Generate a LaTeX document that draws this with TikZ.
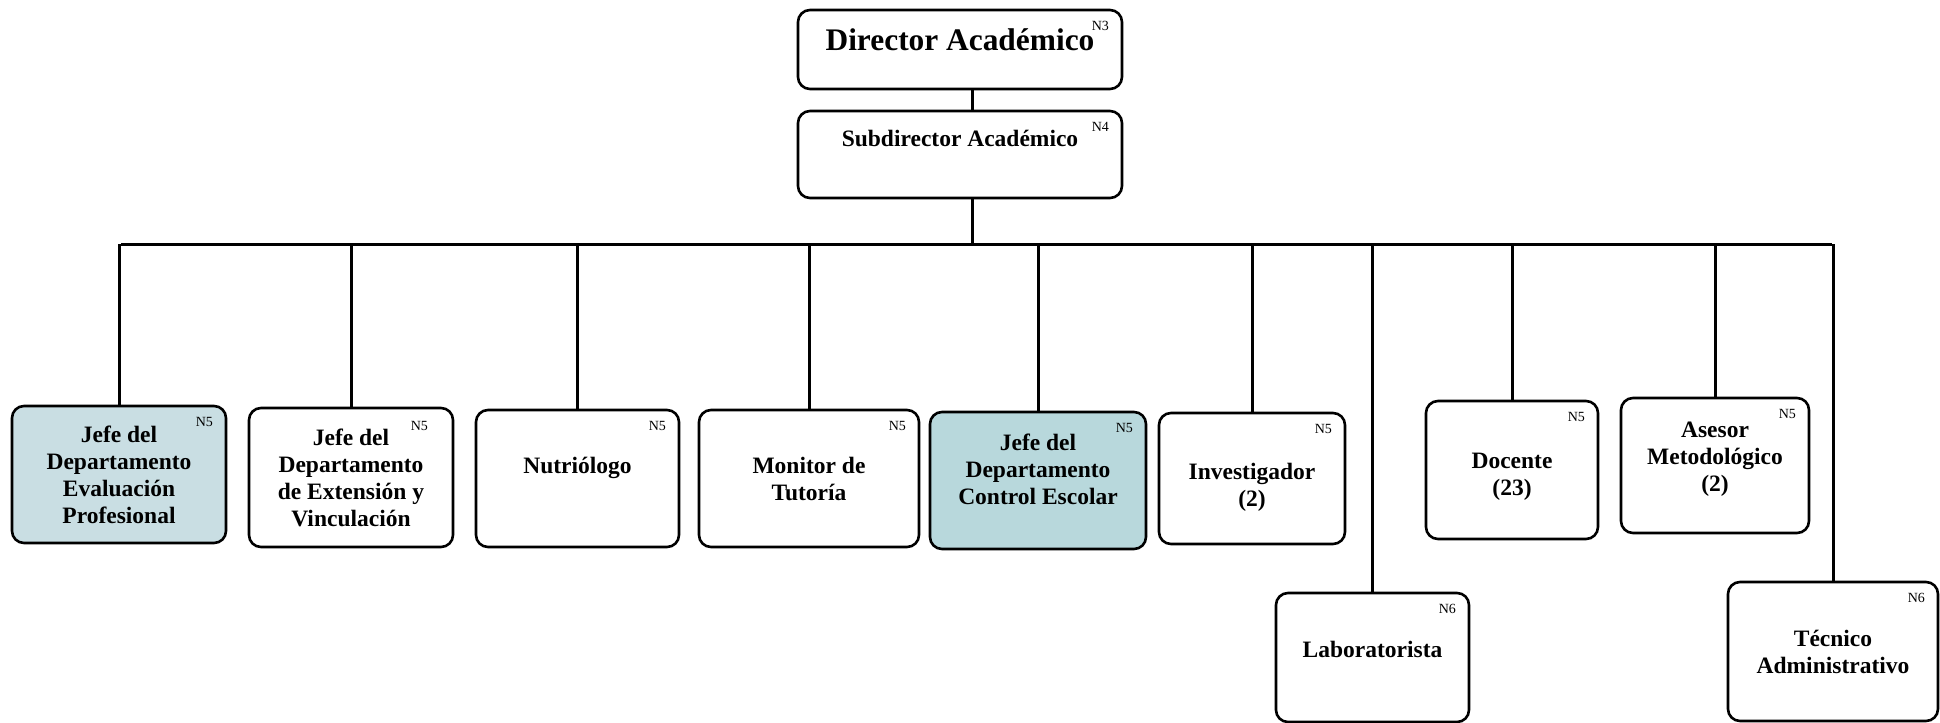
\documentclass[tikz,border=0pt]{standalone}
\usepackage{fontspec}
\setmainfont{Liberation Serif}
\definecolor{celeste}{HTML}{C9DEE3}
\definecolor{celesteosc}{HTML}{B8D8DC}
\tikzset{
  puesto/.style={draw, line width=1.3pt, rounded corners=6pt, align=center,
    inner sep=2pt, font=\bfseries\fontsize{11.75}{13.5}\selectfont},
  nivel/.style={anchor=north east, inner sep=0pt, font=\fontsize{7}{8}\selectfont},
  linea/.style={line width=1.5pt}
}
\begin{document}
\begin{tikzpicture}[x=0.5pt,y=-0.5pt]
  \useasboundingbox (0,0) rectangle (1940,723);
  % direccion
  \node[puesto, minimum width=162pt, minimum height=39.5pt, text depth=10pt,
        font=\bfseries\fontsize{15.7}{18}\selectfont] (dir) at (960,49.5) {Director Académico};
  \node[puesto, minimum width=162pt, minimum height=43.5pt, text depth=16pt] (sub) at (960,154.5) {Subdirector Académico};
  % jefaturas y puestos
  \node[puesto, fill=celeste, minimum width=107pt, minimum height=68.5pt] (eval) at (119,474.5) {Jefe del\\Departamento\\Evaluación\\Profesional};
  \node[puesto, minimum width=102pt, minimum height=69.5pt] (ext) at (351,477.5) {Jefe del\\Departamento\\de Extensión y\\Vinculación};
  \node[puesto, minimum width=101.5pt, minimum height=68.5pt, text depth=13pt] (nutri) at (577.5,478.5) {Nutriólogo};
  \node[puesto, minimum width=110pt, minimum height=68.5pt] (tutor) at (809,478.5) {Monitor de\\Tutoría};
  \node[puesto, fill=celesteosc, minimum width=108pt, minimum height=68.5pt, text depth=11pt] (control) at (1038,480.5) {Jefe del\\Departamento\\Control Escolar};
  \node[puesto, minimum width=93pt, minimum height=65.5pt, text height=30.5pt] (invest) at (1252,478.5) {Investigador\\(2)};
  \node[puesto, minimum width=86pt, minimum height=69pt, text height=27.5pt] (docente) at (1512,470) {Docente\\(23)};
  \node[puesto, minimum width=94pt, minimum height=67.5pt, text depth=8.5pt] (asesor) at (1715,465.5) {Asesor\\Metodológico\\(2)};
  \node[puesto, minimum width=96.5pt, minimum height=64.5pt, text depth=8pt] (lab) at (1372.5,657.5) {Laboratorista};
  \node[puesto, minimum width=105pt, minimum height=69.5pt] (tecnico) at (1833,651.5) {Técnico\\Administrativo};
  % niveles
  \foreach \b/\n in {dir/N3,sub/N4,eval/N5,nutri/N5,tutor/N5,control/N5,invest/N5,docente/N5,asesor/N5,lab/N6,tecnico/N6}
    \node[nivel] at ([xshift=-7pt,yshift=-6pt]\b.north east) {\n};
  \node[nivel] at ([xshift=-13pt,yshift=-7pt]ext.north east) {N5};
  % lineas
  \coordinate (busL) at (121,244);
  \coordinate (busR) at (1832,244);
  \draw[linea] ([xshift=6pt]dir.south) -- ([xshift=6pt]sub.north);
  \draw[linea] ([xshift=6pt]sub.south) -- ([xshift=6pt]sub.south |- busL);
  \draw[linea] (busL) -- (busR);
  \foreach \b in {eval,ext,nutri,tutor,control,invest,lab,docente,asesor,tecnico}
    \draw[linea] (\b.north |- busL) -- (\b.north);
\end{tikzpicture}
\end{document}
